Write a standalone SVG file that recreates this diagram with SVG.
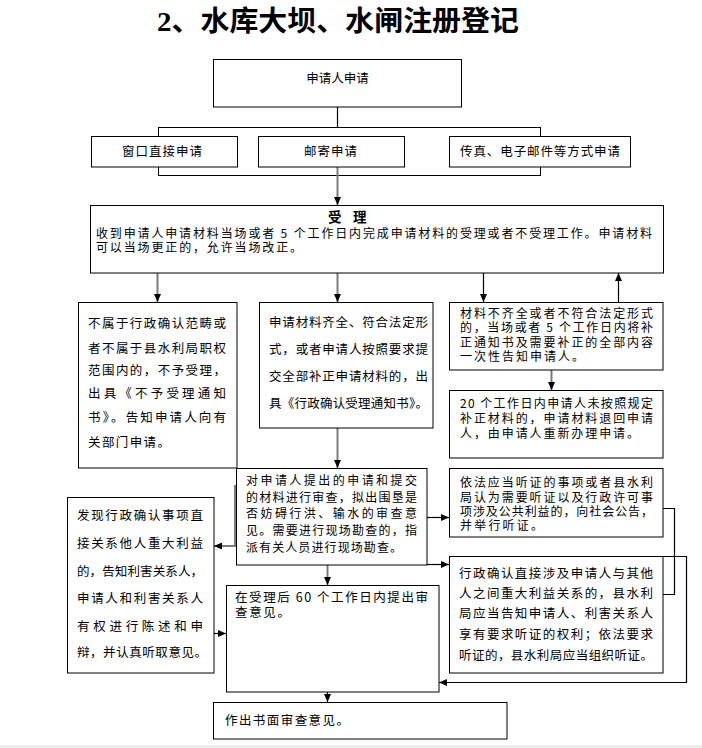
<svg xmlns="http://www.w3.org/2000/svg" width="702" height="748" viewBox="0 0 702 748">
<defs>
<marker id="ah" markerUnits="userSpaceOnUse" markerWidth="8" markerHeight="8" refX="8" refY="4" orient="auto">
<path d="M0,0.5 L8,4 L0,7.5 z" fill="#000"/>
</marker>
<style>
.box{fill:#fff;stroke:#000;stroke-width:1}
.t{font-family:"Noto Sans CJK SC","Liberation Sans",sans-serif;font-size:12.5px;fill:#000}
.s{font-size:12px}
.c{text-anchor:middle}
.k{fill:none;stroke:#000;stroke-width:1.2}
.g{fill:none;stroke:#7a7a7a;stroke-width:2}
.title{font-family:"Liberation Serif","Noto Sans CJK SC",serif;font-size:28px;font-weight:bold;fill:#000}
.b{font-weight:bold;font-size:13.5px}
</style>
</defs>
<rect x="0" y="0" width="702" height="748" fill="#fff"/>
<rect x="0" y="745" width="702" height="3" fill="#efefef"/>

<text class="title" x="157" y="31" textLength="362" lengthAdjust="spacingAndGlyphs">2、水库大坝、水闸注册登记</text>

<g id="connectors">
<line class="k" x1="337.5" y1="107" x2="337.5" y2="127.5"/>
<rect x="158.5" y="127.5" width="382" height="48" fill="none" stroke="#000" stroke-width="1"/>
<line class="g" x1="337.5" y1="167" x2="337.5" y2="205" marker-end="url(#ah)"/>
<line class="g" x1="157.5" y1="273" x2="157.5" y2="302" marker-end="url(#ah)"/>
<line class="g" x1="337.5" y1="273" x2="337.5" y2="302" marker-end="url(#ah)"/>
<line class="k" x1="483.5" y1="273" x2="483.5" y2="302" marker-end="url(#ah)"/>
<line class="k" x1="618.5" y1="302" x2="618.5" y2="273" marker-end="url(#ah)"/>
<line class="g" x1="551.5" y1="370" x2="551.5" y2="390" marker-end="url(#ah)"/>
<line class="g" x1="337.5" y1="428" x2="337.5" y2="468" marker-end="url(#ah)"/>
<line class="k" x1="427" y1="517.5" x2="449" y2="517.5" marker-end="url(#ah)"/>
<line class="k" x1="427" y1="564.5" x2="449" y2="564.5" marker-end="url(#ah)"/>
<polyline class="g" points="235,485 235,546 214,546" marker-end="url(#ah)"/>
<line class="k" x1="214" y1="633.5" x2="226" y2="633.5" marker-end="url(#ah)"/>
<line class="g" x1="327.5" y1="565" x2="327.5" y2="585" marker-end="url(#ah)"/>
<line class="k" x1="327.5" y1="692" x2="327.5" y2="702" marker-end="url(#ah)"/>
<polyline class="k" points="663,508.5 674.5,508.5 674.5,594.5 663,594.5"/>
<polyline class="k" points="663,556.5 686.5,556.5 686.5,682.5 439,682.5" marker-end="url(#ah)"/>
</g>

<g id="n-apply">
<rect class="box" x="213.5" y="59.5" width="248" height="47.5"/>
<text class="t c" x="337.5" y="83">申请人申请</text>
</g>
<g id="n-window">
<rect class="box" x="91.5" y="136.5" width="146" height="30.5"/>
<text class="t" x="122" y="156" textLength="80">窗口直接申请</text>
</g>
<g id="n-mail">
<rect class="box" x="258.5" y="136.5" width="146" height="30.5"/>
<text class="t" x="304" y="156" textLength="53">邮寄申请</text>
</g>
<g id="n-fax">
<rect class="box" x="449.5" y="136.5" width="181" height="30.5"/>
<text class="t" x="460" y="156" textLength="160">传真、电子邮件等方式申请</text>
</g>
<g id="n-accept">
<rect class="box" x="90.5" y="205.5" width="573" height="67.5"/>
<text class="t b" x="328" y="222">受</text>
<text class="t b" x="353" y="222">理</text>
<text class="t s" x="96" y="238" textLength="556">收到申请人申请材料当场或者 5 个工作日内完成申请材料的受理或者不受理工作。申请材料</text>
<text class="t s" x="96" y="252" textLength="206">可以当场更正的，允许当场改正。</text>
</g>
<g id="n-reject">
<rect class="box" x="78.5" y="302.5" width="158.5" height="165.5"/>
<text class="t" x="88" y="328" textLength="138">不属于行政确认范畴或</text>
<text class="t" x="88" y="353" textLength="138">者不属于县水利局职权</text>
<text class="t" x="88" y="375" textLength="138">范围内的，不予受理，</text>
<text class="t" x="88" y="398" textLength="138">出具《不予受理通知</text>
<text class="t" x="88" y="422" textLength="138">书》。告知申请人向有</text>
<text class="t" x="88" y="447" textLength="82">关部门申请。</text>
</g>
<g id="n-complete">
<rect class="box" x="259.5" y="302.5" width="173.5" height="125.5"/>
<text class="t" x="269" y="327" textLength="159">申请材料齐全、符合法定形</text>
<text class="t" x="269" y="354" textLength="159">式，或者申请人按照要求提</text>
<text class="t" x="269" y="381" textLength="159">交全部补正申请材料的，出</text>
<text class="t" x="269" y="408" textLength="159">具《行政确认受理通知书》。</text>
</g>
<g id="n-incomplete">
<rect class="box" x="449.5" y="302.5" width="213.5" height="67.5"/>
<text class="t s" x="460" y="318" textLength="193">材料不齐全或者不符合法定形式</text>
<text class="t s" x="460" y="332" textLength="193">的，当场或者 5 个工作日内将补</text>
<text class="t s" x="460" y="347" textLength="193">正通知书及需要补正的全部内容</text>
<text class="t s" x="460" y="361" textLength="124">一次性告知申请人。</text>
</g>
<g id="n-return">
<rect class="box" x="449.5" y="390.5" width="213.5" height="67.5"/>
<text class="t s" x="460" y="408" textLength="193">20 个工作日内申请人未按照规定</text>
<text class="t s" x="460" y="423" textLength="193">补正材料的，申请材料退回申请</text>
<text class="t s" x="460" y="438" textLength="179">人，由申请人重新办理申请。</text>
</g>
<g id="n-review">
<rect class="box" x="236.5" y="468.5" width="190.5" height="96.5"/>
<text class="t s" x="246" y="485" textLength="171">对申请人提出的申请和提交</text>
<text class="t s" x="246" y="502" textLength="171">的材料进行审查，拟出围垦是</text>
<text class="t s" x="246" y="518" textLength="171">否妨碍行洪、输水的审查意</text>
<text class="t s" x="246" y="535" textLength="171">见。需要进行现场勘查的，指</text>
<text class="t s" x="246" y="552" textLength="156">派有关人员进行现场勘查。</text>
</g>
<g id="n-hearing">
<rect class="box" x="449.5" y="468.5" width="213.5" height="68.5"/>
<text class="t s" x="460" y="487" textLength="193">依法应当听证的事项或者县水利</text>
<text class="t s" x="460" y="502" textLength="193">局认为需要听证以及行政许可事</text>
<text class="t s" x="460" y="516" textLength="193">项涉及公共利益的，向社会公告，</text>
<text class="t s" x="460" y="530" textLength="83">并举行听证。</text>
</g>
<g id="n-stakeholder">
<rect class="box" x="67.5" y="497.5" width="146.5" height="175.5"/>
<text class="t" x="77" y="520" textLength="126">发现行政确认事项直</text>
<text class="t" x="77" y="548" textLength="126">接关系他人重大利益</text>
<text class="t" x="77" y="576" textLength="126">的，告知利害关系人，</text>
<text class="t" x="77" y="603" textLength="126">申请人和利害关系人</text>
<text class="t" x="77" y="631" textLength="126">有权进行陈述和申</text>
<text class="t" x="77" y="657" textLength="130">辩，并认真听取意见。</text>
</g>
<g id="n-opinion60">
<rect class="box" x="226.5" y="585.5" width="212.5" height="106.5"/>
<text class="t" x="235" y="602" textLength="193">在受理后 60 个工作日内提出审</text>
<text class="t" x="235" y="617" textLength="55">查意见。</text>
</g>
<g id="n-direct">
<rect class="box" x="449.5" y="556.5" width="213.5" height="116.5"/>
<text class="t" x="459" y="578" textLength="194">行政确认直接涉及申请人与其他</text>
<text class="t" x="459" y="598" textLength="194">人之间重大利益关系的，县水利</text>
<text class="t" x="459" y="618" textLength="194">局应当告知申请人、利害关系人</text>
<text class="t" x="459" y="639" textLength="194">享有要求听证的权利；依法要求</text>
<text class="t" x="459" y="660" textLength="194">听证的，县水利局应当组织听证。</text>
</g>
<g id="n-final">
<rect class="box" x="213.5" y="702.5" width="293.5" height="36.5"/>
<text class="t" x="225" y="725" textLength="124">作出书面审查意见。</text>
</g>
</svg>
